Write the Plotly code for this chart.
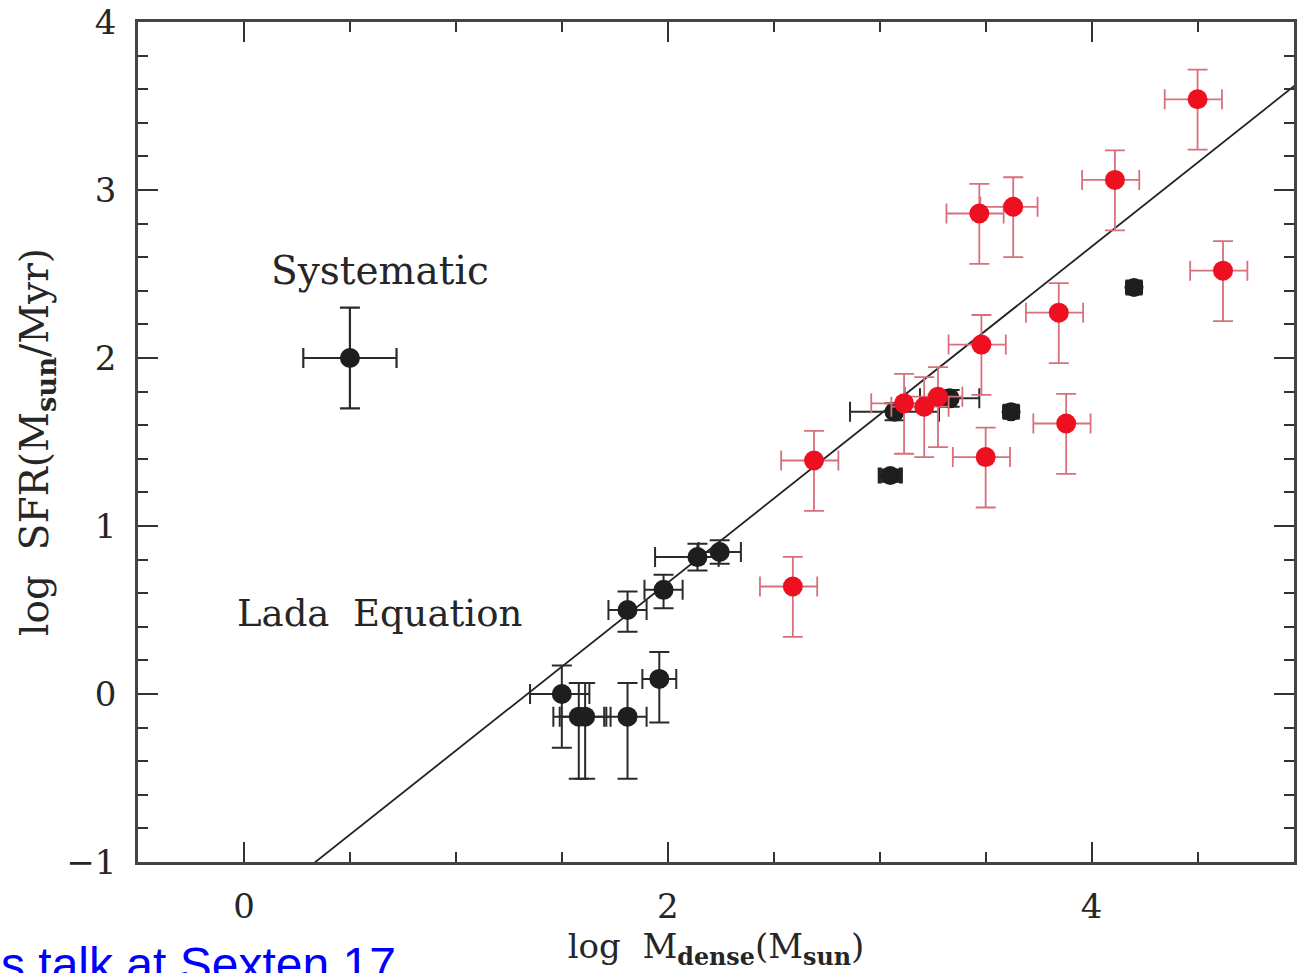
import plotly.graph_objects as go

# --- Lada relation: log SFR = log M_dense + log(4.6e-2) ---
lada_intercept = -1.337
line_x = [-0.5, 5.0]

# --- nearby clouds (black) ---
blk_x = [1.50, 1.58, 1.61, 1.81, 1.96, 1.81, 1.98, 2.14, 2.245, 3.07, 3.33]
blk_y = [0.00, -0.135, -0.135, -0.135, 0.09, 0.50, 0.62, 0.815, 0.845, 1.68, 1.76]
blk_xp = [0.13, 0.12, 0.12, 0.09, 0.08, 0.09, 0.09, 0.10, 0.10, 0.21, 0.14]
blk_xm = [0.15, 0.12, 0.12, 0.10, 0.08, 0.09, 0.09, 0.20, 0.10, 0.21, 0.14]
blk_yp = [0.17, 0.20, 0.20, 0.20, 0.16, 0.11, 0.09, 0.08, 0.07, 0.05, 0.05]
blk_ym = [0.32, 0.37, 0.37, 0.37, 0.26, 0.13, 0.11, 0.08, 0.07, 0.05, 0.05]

# --- clouds with small uncertainties (black blobs) ---
blob_x = [3.05, 3.62, 4.20]
blob_y = [1.30, 1.68, 2.42]
blob_ex = [0.05, 0.03, 0.03]
blob_ey = [0.03, 0.03, 0.03]

# --- systematic error example ---
sys_x = [0.50]
sys_y = [2.00]
sys_ex = [0.22]
sys_ey = [0.30]

# --- additional clouds (red) ---
red_x = [2.59, 2.69, 3.115, 3.21, 3.275, 3.48, 3.50, 3.88, 3.47, 3.63, 4.11, 3.845, 4.62, 4.50]
red_y = [0.64, 1.39, 1.73, 1.71, 1.77, 2.08, 1.41, 1.61, 2.86, 2.90, 3.06, 2.27, 2.52, 3.54]
red_xp = [0.115] * 14
red_xm = [0.155] * 14
red_yp = [0.176] * 14
red_ym = [0.30] * 14

SERIF = "DejaVu Serif"
INK = "#2a2a2a"

fig = go.Figure()

fig.add_trace(go.Scatter(
    x=line_x, y=[v + lada_intercept for v in line_x], mode="lines",
    line=dict(color="#222222", width=1.8), hoverinfo="skip", showlegend=False))

fig.add_trace(go.Scatter(
    x=blk_x, y=blk_y, mode="markers",
    marker=dict(color="#1e1e1e", size=20),
    error_x=dict(type="data", symmetric=False, array=blk_xp, arrayminus=blk_xm,
                 color=INK, thickness=2, width=10),
    error_y=dict(type="data", symmetric=False, array=blk_yp, arrayminus=blk_ym,
                 color=INK, thickness=2, width=10),
    showlegend=False))

fig.add_trace(go.Scatter(
    x=blob_x, y=blob_y, mode="markers",
    marker=dict(color="#1e1e1e", size=19),
    error_x=dict(type="data", array=blob_ex, color="#222222", thickness=4, width=8),
    error_y=dict(type="data", array=blob_ey, color="#222222", thickness=4, width=9),
    showlegend=False))

fig.add_trace(go.Scatter(
    x=sys_x, y=sys_y, mode="markers",
    marker=dict(color="#1e1e1e", size=20),
    error_x=dict(type="data", array=sys_ex, color=INK, thickness=2.2, width=10),
    error_y=dict(type="data", array=sys_ey, color=INK, thickness=2.2, width=10),
    showlegend=False))

fig.add_trace(go.Scatter(
    x=red_x, y=red_y, mode="markers",
    marker=dict(color="#ee1020", size=20),
    error_x=dict(type="data", symmetric=False, array=red_xp, arrayminus=red_xm,
                 color="#d8707c", thickness=1.8, width=10),
    error_y=dict(type="data", symmetric=False, array=red_yp, arrayminus=red_ym,
                 color="#d8707c", thickness=1.8, width=10),
    showlegend=False))

axis_common = dict(
    showline=True, linecolor="#444444", linewidth=2.5, mirror="allticks",
    ticks="inside", ticklen=20, tickwidth=1.6, tickcolor="#333333",
    showgrid=False, zeroline=False,
    tickfont=dict(family=SERIF, size=34, color="#262626"),
)

fig.update_xaxes(
    range=[-0.5, 4.955], tickvals=[0, 2, 4], ticktext=["0", "2", "4"],
    minor=dict(dtick=0.5, tick0=0, ticks="inside", ticklen=10, tickwidth=1.6,
               tickcolor="#333333", showgrid=False),
    ticklabelstandoff=12,
    title=dict(text="log  M<sub><b>dense</b></sub>(M<sub><b>sun</b></sub>)", standoff=5,
               font=dict(family=SERIF, size=34, color="#262626")),
    **axis_common)

fig.update_yaxes(
    range=[-1, 4], tickvals=[-1, 0, 1, 2, 3, 4], ticktext=["\u22121", "0", "1", "2", "3", "4"],
    minor=dict(dtick=0.2, tick0=0, ticks="inside", ticklen=10, tickwidth=1.6,
               tickcolor="#333333", showgrid=False),
    ticklabelstandoff=12,
    title=dict(text="log  SFR(M<sub><b>sun</b></sub>/Myr)", standoff=6,
               font=dict(family=SERIF, size=39, color="#262626")),
    **axis_common)

fig.add_annotation(x=0.64, y=2.52, xref="x", yref="y", text="Systematic",
                   showarrow=False, font=dict(family=SERIF, size=39, color="#262626"))
fig.add_annotation(x=0.64, y=0.48, xref="x", yref="y", text="Lada  Equation",
                   showarrow=False, font=dict(family=SERIF, size=37, color="#262626"))

# credit line along the bottom edge
fig.add_annotation(x=-0.1205, y=-0.0885, xref="paper", yref="paper", text="s talk at Sexten 17",
                   showarrow=False, xanchor="left", yanchor="top",
                   font=dict(family="Liberation Sans, Arial", size=48, color="#0000ff"))

fig.update_layout(
    width=1297, height=973,
    margin=dict(l=138, r=0, t=22, b=111),
    paper_bgcolor="white", plot_bgcolor="white",
)

fig.write_html("out.html")
